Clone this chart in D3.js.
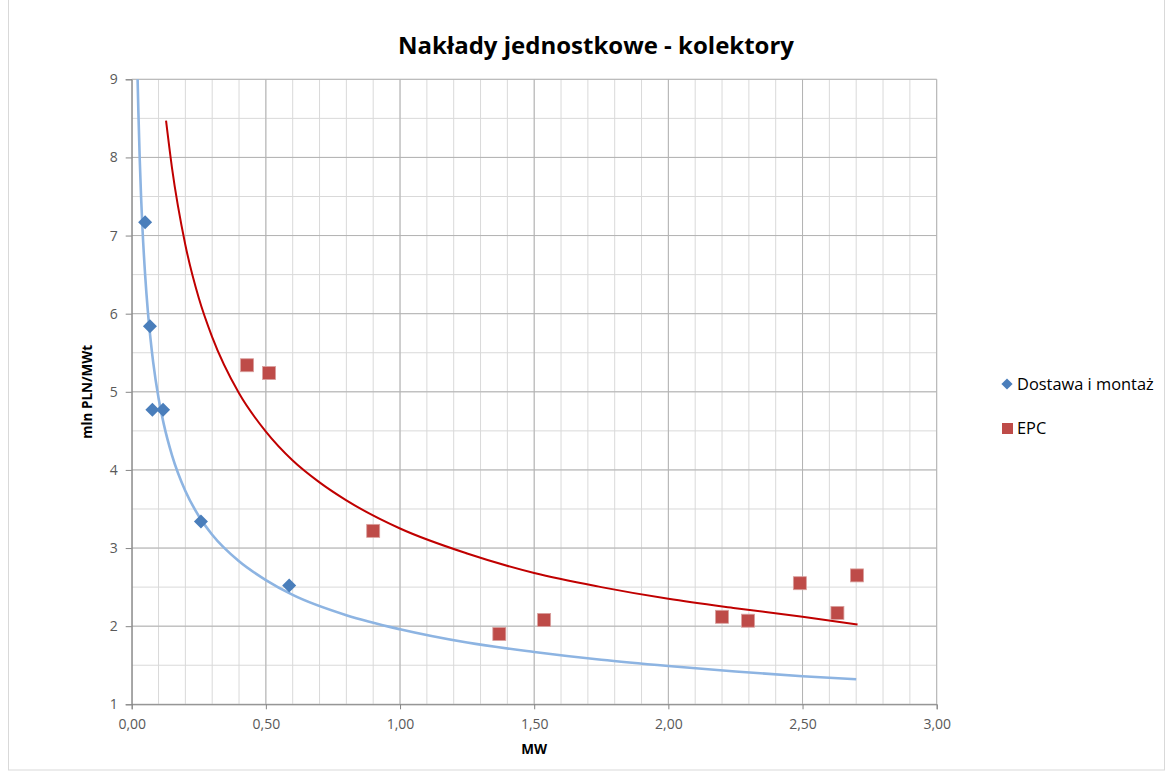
<!DOCTYPE html>
<html><head><meta charset="utf-8">
<script src="https://cdn.jsdelivr.net/npm/d3@7"></script>
<style>
html,body{margin:0;padding:0;background:#fff;}
svg{display:block;font-family:"Open Sans","Liberation Sans",sans-serif;}
</style></head><body>
<svg id="chart" width="1171" height="774"></svg>
<script>
const title = "Nakłady jednostkowe - kolektory";
const xTitle = "MW";
const yTitle = "mln PLN/MWt";
const seriesNames = ["Dostawa i montaż", "EPC"];
const xTicks = [0, 0.5, 1, 1.5, 2, 2.5, 3];
const yTicks = [1, 2, 3, 4, 5, 6, 7, 8, 9];

// Dostawa i montaż (points)
const dostawaX = [0.05, 0.068, 0.077, 0.117, 0.258, 0.587];
const dostawaY = [7.17, 5.84, 4.77, 4.77, 3.34, 2.52];
// EPC (points)
const epcX = [0.43, 0.512, 0.90, 1.37, 1.537, 2.20, 2.297, 2.49, 2.63, 2.703];
const epcY = [5.34, 5.24, 3.22, 1.90, 2.08, 2.12, 2.07, 2.55, 2.17, 2.65];
// trend lines
const dostawaTrendX = [0.022, 0.025, 0.03, 0.035, 0.04, 0.05, 0.06, 0.07, 0.08, 0.1, 0.12, 0.15, 0.2, 0.25, 0.3, 0.4, 0.5, 0.6, 0.8, 1.0, 1.25, 1.5, 1.75, 2.0, 2.25, 2.5, 2.7];
const dostawaTrendY = [9.0, 8.57, 7.97, 7.49, 7.10, 6.50, 6.04, 5.68, 5.38, 4.92, 4.58, 4.19, 3.73, 3.41, 3.17, 2.83, 2.59, 2.40, 2.14, 1.96, 1.79, 1.67, 1.57, 1.49, 1.42, 1.36, 1.32];
const epcTrendX = [0.128, 0.15, 0.2, 0.25, 0.3, 0.4, 0.5, 0.6, 0.7, 0.8, 1.0, 1.25, 1.5, 1.75, 2.0, 2.25, 2.5, 2.705];
const epcTrendY = [8.47, 7.87, 6.88, 6.20, 5.70, 4.98, 4.49, 4.12, 3.84, 3.61, 3.25, 2.93, 2.68, 2.50, 2.35, 2.23, 2.12, 2.02];

const svg = d3.select("#chart");
const L = 131.7, R = 936.7, T = 79.3, B = 704.3;
const x = d3.scaleLinear().domain([0, 3]).range([L, R]);
const y = d3.scaleLinear().domain([1, 9]).range([B, T]);

// chart border
svg.append("rect").attr("x", 8.5).attr("y", -2).attr("width", 1156).attr("height", 772)
  .attr("fill", "none").attr("stroke", "#d9d9d9");

// minor grid
const g = svg.append("g");
d3.range(0, 3.0001, 0.1).forEach(v => {
  g.append("line").attr("x1", x(v)).attr("x2", x(v)).attr("y1", T).attr("y2", B)
   .attr("stroke", "#d9d9d9").attr("stroke-width", 1);
});
d3.range(1, 9.0001, 0.5).forEach(v => {
  g.append("line").attr("x1", L).attr("x2", R).attr("y1", y(v)).attr("y2", y(v))
   .attr("stroke", "#d9d9d9").attr("stroke-width", 1);
});
// major grid
xTicks.forEach(v => {
  g.append("line").attr("x1", x(v)).attr("x2", x(v)).attr("y1", T).attr("y2", B)
   .attr("stroke", "#b3b3b3").attr("stroke-width", 1);
});
yTicks.forEach(v => {
  g.append("line").attr("x1", L).attr("x2", R).attr("y1", y(v)).attr("y2", y(v))
   .attr("stroke", "#b3b3b3").attr("stroke-width", 1);
});

// axes
const fmt = d => d3.format(".2f")(d).replace(".", ",");
const xAxis = svg.append("g").attr("transform", `translate(0,${B})`)
  .call(d3.axisBottom(x).tickValues(xTicks).tickFormat(fmt).tickSizeOuter(0).tickSize(5).tickPadding(10));
const yAxis = svg.append("g").attr("transform", `translate(${L},0)`)
  .call(d3.axisLeft(y).tickValues(yTicks).tickFormat(d3.format("d")).tickSizeOuter(0).tickSize(6).tickPadding(8));
[xAxis, yAxis].forEach(a => {
  a.select(".domain").attr("stroke", "#868686");
  a.selectAll(".tick line").attr("stroke", "#868686");
  a.selectAll(".tick text").attr("fill", "#595959").attr("font-size", 14)
   .attr("font-family", "'Open Sans','Liberation Sans',sans-serif");
});

// trend lines
const line = d3.line().x(d => x(d[0])).y(d => y(d[1])).curve(d3.curveMonotoneX);
svg.append("path").datum(dostawaTrendX.map((v, i) => [v, dostawaTrendY[i]]))
  .attr("d", line).attr("fill", "none").attr("stroke", "#8db4e2").attr("stroke-width", 2.6);
svg.append("path").datum(epcTrendX.map((v, i) => [v, epcTrendY[i]]))
  .attr("d", line).attr("fill", "none").attr("stroke", "#c00000").attr("stroke-width", 2);

// points
const diamond = d3.symbol().type(d3.symbolDiamond2).size(125);
svg.append("g").selectAll("path").data(dostawaX.map((v, i) => [v, dostawaY[i]])).join("path")
  .attr("d", diamond).attr("transform", d => `translate(${x(d[0])},${y(d[1])})`)
  .attr("fill", "#4a7ebb");
svg.append("g").selectAll("rect").data(epcX.map((v, i) => [v, epcY[i]])).join("rect")
  .attr("x", d => x(d[0]) - 6.5).attr("y", d => y(d[1]) - 6.5).attr("width", 13).attr("height", 13)
  .attr("fill", "#be4b48").attr("stroke", "#d9a09e").attr("stroke-width", 0.8);

// titles
svg.append("text").attr("x", 596).attr("y", 54).attr("text-anchor", "middle")
  .attr("font-size", 24).attr("font-weight", "bold").attr("fill", "#000").text(title);
svg.append("text").attr("x", (L + R) / 2).attr("y", 754).attr("text-anchor", "middle")
  .attr("font-size", 13.5).attr("font-weight", "bold").attr("fill", "#000").text(xTitle);
svg.append("text").attr("transform", `translate(92,${(T + B) / 2}) rotate(-90)`).attr("text-anchor", "middle")
  .attr("font-size", 13.5).attr("font-weight", "bold").attr("fill", "#000").text(yTitle);

// legend
const lg = svg.append("g");
lg.append("path").attr("d", d3.symbol().type(d3.symbolDiamond2).size(80)())
  .attr("transform", "translate(1007,384)").attr("fill", "#4a7ebb");
lg.append("text").attr("x", 1017).attr("y", 390).attr("font-size", 16.4).attr("fill", "#000").text(seriesNames[0]);
lg.append("rect").attr("x", 1002).attr("y", 423).attr("width", 11).attr("height", 11).attr("fill", "#be4b48");
lg.append("text").attr("x", 1017).attr("y", 434).attr("font-size", 16.4).attr("fill", "#000").text(seriesNames[1]);
</script>
</body></html>
